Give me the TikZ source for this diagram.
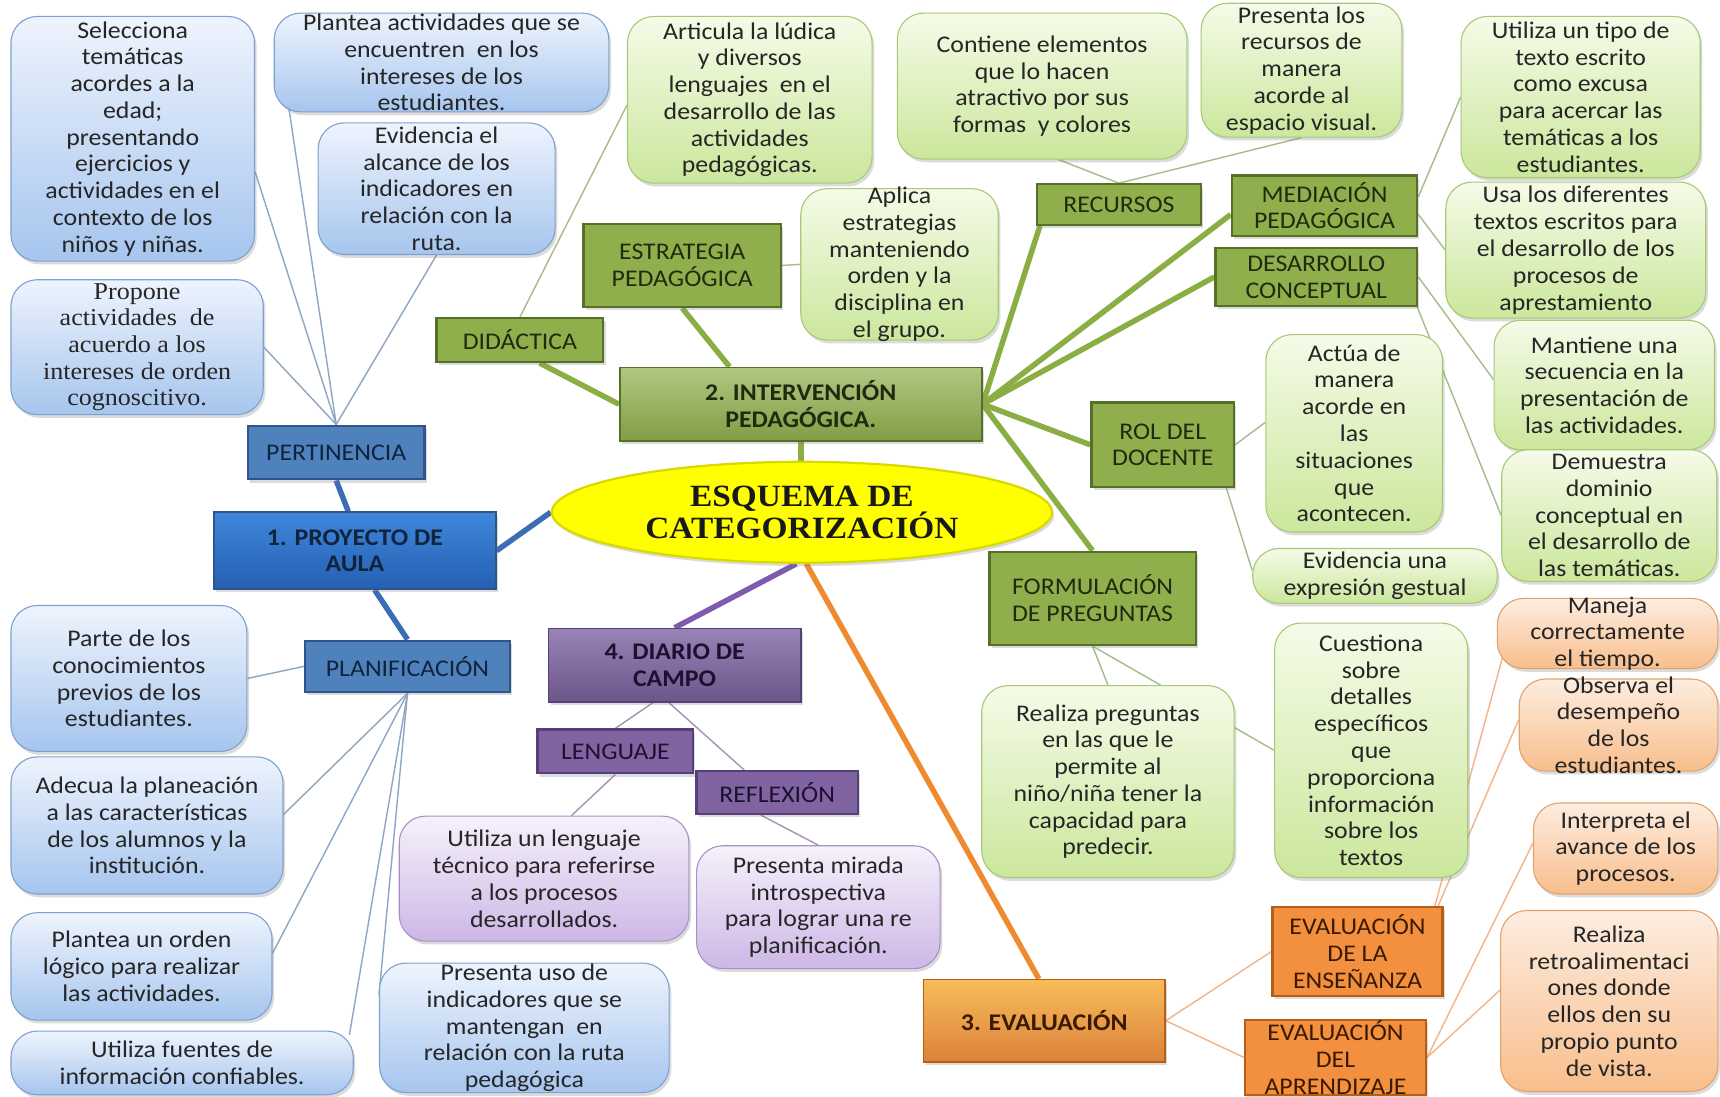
\documentclass[tikz,border=0pt]{standalone}
\usepackage{fontspec}
\setmainfont{Carlito}[FakeStretch=1.08]
\newfontfamily\serifA{Liberation Serif}[FakeStretch=1.08]
\usetikzlibrary{shapes.geometric,shadows,backgrounds,calc}

\definecolor{lbTop}{HTML}{EEF4FD}\definecolor{lbBot}{HTML}{A6C5EE}\definecolor{lbDraw}{HTML}{7EA1CF}
\definecolor{lgTop}{HTML}{F5FBE8}\definecolor{lgBot}{HTML}{CBE79C}\definecolor{lgDraw}{HTML}{A7C978}
\definecolor{lpTop}{HTML}{F6F1FB}\definecolor{lpBot}{HTML}{CDB7E6}\definecolor{lpDraw}{HTML}{A891C6}
\definecolor{loTop}{HTML}{FDEDE0}\definecolor{loBot}{HTML}{F8BE8C}\definecolor{loDraw}{HTML}{E3A26A}
\definecolor{bcat}{HTML}{4F81BD}\definecolor{bcatD}{HTML}{2F5589}\definecolor{bcatT}{HTML}{10243E}
\definecolor{gcat}{HTML}{8FAF4C}\definecolor{gcatD}{HTML}{56702A}\definecolor{gcatT}{HTML}{1F2B0E}
\definecolor{pcat}{HTML}{8064A2}\definecolor{pcatD}{HTML}{56407A}\definecolor{pcatT}{HTML}{1E1030}
\definecolor{ocat}{HTML}{F39040}\definecolor{ocatD}{HTML}{B65E12}\definecolor{ocatT}{HTML}{3B1A00}
\definecolor{projTop}{HTML}{3F86DB}\definecolor{projBot}{HTML}{2460B2}
\definecolor{txt}{HTML}{262626}
\definecolor{thBc}{HTML}{3C6DB4}\definecolor{thGc}{HTML}{8AAE44}\definecolor{thPc}{HTML}{7D5CB0}\definecolor{thOc}{HTML}{F08A30}
\definecolor{tnBc}{HTML}{8FA6C4}\definecolor{tnGc}{HTML}{A8BB8A}\definecolor{tnPc}{HTML}{A295B5}\definecolor{tnOc}{HTML}{F2B48A}
\definecolor{yel}{HTML}{FFFF00}\definecolor{yelD}{HTML}{D9D900}

\newcommand\leafF{\fontsize{21.8}{24.4}\selectfont}
\newcommand\leafS{\serifA\fontsize{22}{24.2}\selectfont}
\newcommand\mainF{\bfseries\fontsize{21.8}{24.4}\selectfont}
\newcommand\titleF{\serifA\bfseries\fontsize{28.2}{28.5}\selectfont}

\tikzset{
  shd/.style={drop shadow={opacity=0.28, shadow xshift=2pt, shadow yshift=-3pt}},
  leaf/.style={shd, rounded corners=24pt, align=center, inner sep=0pt, text=txt, font=\leafF, line width=1pt},
  lb/.style={leaf, draw=lbDraw, top color=lbTop, bottom color=lbBot},
  lg/.style={leaf, draw=lgDraw, top color=lgTop, bottom color=lgBot},
  lp/.style={leaf, draw=lpDraw, top color=lpTop, bottom color=lpBot},
  lo/.style={leaf, draw=loDraw, top color=loTop, bottom color=loBot},
  cat/.style={shd, align=center, inner sep=0pt, font=\leafF, line width=2pt},
  bc/.style={cat, fill=bcat, draw=bcatD, text=bcatT},
  gc/.style={cat, fill=gcat, draw=gcatD, text=gcatT},
  pc/.style={cat, fill=pcat, draw=pcatD, text=pcatT},
  oc/.style={cat, fill=ocat, draw=ocatD, text=ocatT},
  mainbox/.style={cat, font=\mainF, line width=1.5pt},
  thB/.style={line width=5pt, draw=thBc},
  thG/.style={line width=5pt, draw=thGc},
  thP/.style={line width=5pt, draw=thPc},
  thO/.style={line width=5pt, draw=thOc},
  tnB/.style={line width=1.3pt, draw=tnBc},
  tnG/.style={line width=1.3pt, draw=tnGc},
  tnP/.style={line width=1.3pt, draw=tnPc},
  tnO/.style={line width=1.3pt, draw=tnOc}
}

\begin{document}
\begin{tikzpicture}[x=1pt,y=-1pt]
\useasboundingbox (0,0) rectangle (1568,1000);

% ---------- central ----------
\node[ellipse, minimum width=456pt, minimum height=92pt, inner sep=0pt, fill=yel, draw=yelD, line width=2pt,
      align=center, font=\titleF, text=black!90, shd] (cent) at (731,467) {ESQUEMA DE\\CATEGORIZACIÓN};

% ---------- blue branch ----------
\node[mainbox, top color=projTop, bottom color=projBot, draw=bcatD, text=bcatT,
      minimum width=257pt, minimum height=70pt] (proy) at (323.5,502) {1. PROYECTO DE\\AULA};
\node[bc, minimum width=161pt, minimum height=49pt] (pert) at (306.5,412.5) {PERTINENCIA};
\node[bc, minimum width=187pt, minimum height=47pt] (plan) at (371.5,607.5) {PLANIFICACIÓN};

\node[lb, minimum width=222pt, minimum height=223pt] (b1) at (121,126.5)
  {Selecciona\\temáticas\\acordes a la\\edad;\\presentando\\ejercicios y\\actividades en el\\contexto de los\\niños y niñas.};
\node[lb, minimum width=305pt, minimum height=90pt, inner ysep=-5pt] (b2) at (402.5,57)
  {Plantea actividades que se\\encuentren\ \ en los\\intereses de los\\estudiantes.};
\node[lb, minimum width=216pt, minimum height=120pt, inner ysep=-2pt] (b3) at (398,172)
  {Evidencia el\\alcance de los\\indicadores en\\relación con la\\ruta.};
\node[lb, font=\leafS, minimum width=230pt, minimum height=123pt, inner ysep=-1pt] (b4) at (125,316.5)
  {Propone\\actividades\ \ de\\acuerdo a los\\intereses de orden\\cognoscitivo.};
\node[lb, minimum width=215pt, minimum height=133pt] (b5) at (117.5,618.5)
  {Parte de los\\conocimientos\\previos de los\\estudiantes.};
\node[lb, minimum width=248pt, minimum height=125pt] (b6) at (134,752.5)
  {Adecua la planeación\\a las características\\de los alumnos y la\\institución.};
\node[lb, minimum width=238pt, minimum height=98pt] (b7) at (129,881)
  {Plantea un orden\\lógico para realizar\\las actividades.};
\node[lb, minimum width=312pt, minimum height=58pt] (b8) at (166,969)
  {Utiliza fuentes de\\información confiables.};
\node[lb, minimum width=264pt, minimum height=118pt, inner ysep=-2pt] (b9) at (478,937)
  {Presenta uso de\\indicadores que se\\mantengan\ \ en\\relación con la ruta\\pedagógica};

% ---------- green branch ----------
\node[mainbox, top color=gcat!70!white, bottom color=gcat!90!black, draw=gcatD, text=gcatT,
      minimum width=330pt, minimum height=67pt] (int) at (730,368.5) {2. INTERVENCIÓN\\PEDAGÓGICA.};
\node[gc, minimum width=152pt, minimum height=40pt] (did) at (474,310) {DIDÁCTICA};
\node[gc, minimum width=180pt, minimum height=76pt] (est) at (622,242) {ESTRATEGIA\\PEDAGÓGICA};
\node[gc, minimum width=150pt, minimum height=37pt] (rec) at (1020,186.5) {RECURSOS};
\node[gc, minimum width=169pt, minimum height=55pt] (med) at (1207.5,187.5) {MEDIACIÓN\\PEDAGÓGICA};
\node[gc, minimum width=184pt, minimum height=53pt] (des) at (1200,252.5) {DESARROLLO\\CONCEPTUAL};
\node[gc, minimum width=130pt, minimum height=77pt] (rol) at (1060,405.5) {ROL DEL\\DOCENTE};
\node[gc, minimum width=188pt, minimum height=85pt] (form) at (996,545.5) {FORMULACIÓN\\DE PREGUNTAS};

\node[lg, minimum width=223pt, minimum height=152pt] (g1) at (683.5,91)
  {Articula la lúdica\\y diversos\\lenguajes\ \ en el\\desarrollo de las\\actividades\\pedagógicas.};
\node[lg, minimum width=264pt, minimum height=133pt] (g2) at (950,78.5)
  {Contiene elementos\\que lo hacen\\atractivo por sus\\formas\ \ y colores};
\node[lg, minimum width=183pt, minimum height=122pt, inner ysep=-2pt] (g3) at (1186.5,64)
  {Presenta los\\recursos de\\manera\\acorde al\\espacio visual.};
\node[lg, minimum width=180pt, minimum height=138pt, inner ysep=-4pt] (g4) at (820,241)
  {Aplica\\estrategias\\manteniendo\\orden y la\\disciplina en\\el grupo.};
\node[lg, minimum width=218pt, minimum height=147pt] (g5) at (1441,88.5)
  {Utiliza un tipo de\\texto escrito\\como excusa\\para acercar las\\temáticas a los\\estudiantes.};
\node[lg, minimum width=237pt, minimum height=124pt] (g6) at (1436.5,228)
  {Usa los diferentes\\textos escritos para\\el desarrollo de los\\procesos de\\aprestamiento};
\node[lg, minimum width=201pt, minimum height=118pt] (g7) at (1462.5,351)
  {Mantiene una\\secuencia en la\\presentación de\\las actividades.};
\node[lg, minimum width=196pt, minimum height=120pt, inner ysep=-2pt] (g8) at (1467,470)
  {Demuestra\\dominio\\conceptual en\\el desarrollo de\\las temáticas.};
\node[lg, minimum width=161pt, minimum height=180pt] (g9) at (1234.5,395)
  {Actúa de\\manera\\acorde en\\las\\situaciones\\que\\acontecen.};
\node[lg, minimum width=223pt, minimum height=50pt] (g10) at (1253.5,525)
  {Evidencia una\\expresión gestual};
\node[lg, minimum width=230pt, minimum height=175pt] (g11) at (1010,712.5)
  {Realiza preguntas\\en las que le\\permite al\\niño/niña tener la\\capacidad para\\predecir.};
\node[lg, minimum width=176pt, minimum height=232pt] (g12) at (1250,684)
  {Cuestiona\\sobre\\detalles\\específicos\\que\\proporciona\\información\\sobre los\\textos};

% ---------- purple branch ----------
\node[mainbox, top color=pcat!80!white, bottom color=pcat!85!black, draw=pcatD, text=pcatT,
      minimum width=230pt, minimum height=67pt] (dia) at (615,606.5) {4. DIARIO DE\\CAMPO};
\node[pc, minimum width=142pt, minimum height=40pt] (len) at (561,685) {LENGUAJE};
\node[pc, minimum width=147pt, minimum height=39pt] (ref) at (708.5,722.5) {REFLEXIÓN};
\node[lp, minimum width=264pt, minimum height=114pt] (p1) at (496,801)
  {Utiliza un lenguaje\\técnico para referirse\\a los procesos\\desarrollados.};
\node[lp, minimum width=222pt, minimum height=112pt] (p2) at (746,827)
  {Presenta mirada\\introspectiva\\para lograr una re\\planificación.};

% ---------- orange branch ----------
\node[mainbox, top color=ocat!75!yellow!80!white, bottom color=ocat!90!black, draw=ocatD, text=ocatT,
      minimum width=220pt, minimum height=75pt] (eva) at (952,930.5) {3. EVALUACIÓN};
\node[oc, minimum width=155pt, minimum height=81pt] (ens) at (1237.5,867.5) {EVALUACIÓN\\DE LA\\ENSEÑANZA};
\node[oc, minimum width=165pt, minimum height=68pt, inner ysep=-4pt] (apr) at (1217.5,964) {EVALUACIÓN\\DEL\\APRENDIZAJE};
\node[lo, minimum width=201pt, minimum height=64pt, inner ysep=-6pt] (o1) at (1465.5,577.5)
  {Maneja\\correctamente\\el tiempo.};
\node[lo, minimum width=181pt, minimum height=84pt, inner ysep=-8pt] (o2) at (1475.5,661)
  {Observa el\\desempeño\\de los\\estudiantes.};
\node[lo, minimum width=168pt, minimum height=83pt] (o3) at (1482,773.5)
  {Interpreta el\\avance de los\\procesos.};
\node[lo, minimum width=198pt, minimum height=165pt] (o4) at (1467,912.5)
  {Realiza\\retroalimentaci\\ones donde\\ellos den su\\propio punto\\de vista.};

% ---------- connectors ----------
\begin{pgfonlayer}{background}
\fill[white] (0,0) rectangle (1568,1000);
% blue
\draw[thB] (pert.south) -- ($(proy.north)+(-6,0)$);
\draw[thB] ($(proy.south)+(18,0)$) -- (plan.north);
\draw[thB] (proy.east) -- (cent.west);
\draw[tnB] (pert.north) -- ($(b1.east)+(0,30)$);
\draw[tnB] (pert.north) -- ($(b2.south west)+(14,-3)$);
\draw[tnB] (pert.north) -- (b3.south);
\draw[tnB] (pert.north) -- (b4.east);
\draw[tnB] (plan.west) -- (b5.east);
\draw[tnB] (plan.south) -- ($(b6.east)+(0,-10)$);
\draw[tnB] (plan.south) -- ($(b7.east)+(0,-12)$);
\draw[tnB] (plan.south) -- ($(b8.north east)+(-4,4)$);
\draw[tnB] (plan.south) -- ($(b9.west)+(0,-30)$);
% green
\draw[thG] (int.south) -- (int.south |- cent.north);
\draw[thG] ($(did.south)+(18,0)$) -- (int.west);
\draw[thG] (est.south) -- ($(int.north)+(-65,0)$);
\draw[thG] (int.east) -- ($(rec.south west)+(4,0)$);
\draw[thG] (int.east) -- ($(med.west)+(0,8)$);
\draw[thG] (int.east) -- (des.west);
\draw[thG] (int.east) -- (rol.west);
\draw[thG] (int.east) -- (form.north);
\draw[tnG] (did.north) -- ($(g1.west)+(0,5)$);
\draw[tnG] (est.east) -- (g4.west);
\draw[tnG] (rec.north) -- ($(g2.south)+(15,0)$);
\draw[tnG] (rec.north) -- (g3.south);
\draw[tnG] ($(med.east)+(0,-8)$) -- (g5.west);
\draw[tnG] ($(med.east)+(0,8)$) -- (g6.west);
\draw[tnG] (des.east) -- ($(g7.west)+(0,-5)$);
\draw[tnG] ($(des.east)+(-8,10)$) -- (g8.west);
\draw[tnG] (rol.east) -- ($(g9.west)+(0,-10)$);
\draw[tnG] ($(rol.south east)+(-8,0)$) -- ($(g10.west)+(0,-5)$);
\draw[tnG] (form.south) -- (g11.north);
\draw[tnG] (form.south) -- (g12.west);
% purple
\draw[thP] ($(cent.south)+(-5,0)$) -- (dia.north);
\draw[tnP] ($(dia.south)+(-20,0)$) -- (len.north);
\draw[tnP] ($(dia.south)+(-5,0)$) -- ($(ref.north)+(-30,0)$);
\draw[tnP] (len.south) -- ($(p1.north)+(25,0)$);
\draw[tnP] ($(ref.south)+(-15,0)$) -- (p2.north);
% orange
\draw[thO] ($(cent.south)+(4,0)$) -- ($(eva.north)+(-5,0)$);
\draw[tnO] (eva.east) -- (ens.west);
\draw[tnO] (eva.east) -- (apr.west);
\draw[tnO] ($(ens.north east)+(-8,0)$) -- ($(o1.south west)+(5,-10)$);
\draw[tnO] ($(ens.north east)+(-5,0)$) -- ($(o2.west)+(0,-5)$);
\draw[tnO] (apr.east) -- ($(o3.west)+(0,-5)$);
\draw[tnO] (apr.east) -- ($(o4.west)+(0,-10)$);
\end{pgfonlayer}
\end{tikzpicture}
\end{document}
